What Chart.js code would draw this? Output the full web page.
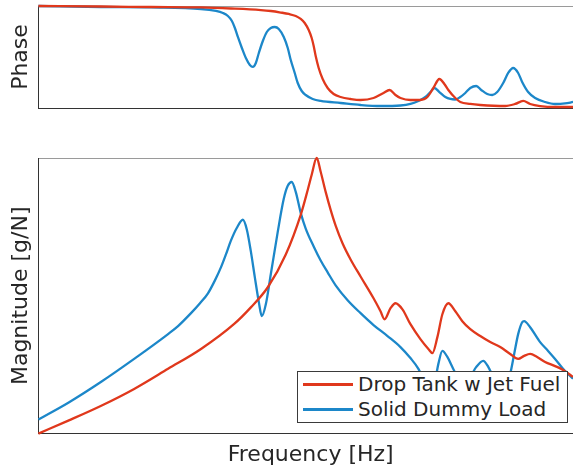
<!DOCTYPE html>
<html>
<head>
<meta charset="utf-8">
<script src="https://cdn.jsdelivr.net/npm/chart.js@4.4.0/dist/chart.umd.min.js"></script>
<style>
  html, body { margin: 0; padding: 0; background: #fff; }
  #wrap { position: relative; width: 573px; height: 473px; overflow: hidden; }
  #phaseBox { position: absolute; left: 0; top: 0; }
  #magBox { position: absolute; left: 0; top: 150px; }
  #legend {
    position: absolute; left: 297px; top: 371px; width: 269px; height: 50px;
    border: 1px solid #3a3a3a; background: #fff;
    font-family: "DejaVu Sans", sans-serif; font-size: 20px; color: #262626;
  }
  .row { position: absolute; left: 0; height: 25px; width: 100%; }
  .swatch { position: absolute; left: 5px; top: 11px; width: 50px; height: 2.5px; }
  .lbl { position: absolute; left: 60px; top: 0; line-height: 25px; white-space: nowrap; }
</style>
</head>
<body>
<div id="wrap">
  <div id="phaseBox"><canvas id="phaseChart" width="585" height="112"></canvas></div>
  <div id="magBox"><canvas id="magChart" width="585" height="323"></canvas></div>
  <div id="legend"></div>
</div>
<script>
// Series names and colours
const seriesNames = ['Drop Tank w Jet Fuel', 'Solid Dummy Load'];
const seriesColors = ['#e0381c', '#1c87c9'];

// Phase [deg]
const tankPhaseFreq = [0, 63, 113, 163, 193, 223, 233, 243, 251, 258, 263, 267, 271, 274, 276, 278, 281, 285, 290, 296,
    303, 313, 323, 336, 346, 352, 358, 363, 373, 383, 390, 396, 402, 407, 411, 418, 423, 433, 443, 468,
    478, 486, 493, 503, 518, 536];
const tankPhase = [0, -0.9, -1.8, -2.6, -4.4, -7.1, -8.8, -11.5, -14.1, -17.6, -22.9, -30.0, -42.4, -56.5, -70.6, -88.2, -109.4, -128.8, -144.7, -155.3,
    -160.6, -164.1, -165.9, -162.4, -153.5, -148.2, -157.1, -162.4, -165.9, -165.9, -160.6, -144.7, -128.8, -137.6, -148.2, -162.4, -169.4, -172.9, -174.7, -176.5,
    -172.9, -167.6, -172.9, -176.5, -178.2, -178.2];

const dummyPhaseFreq = [0, 63, 113, 163, 178, 185, 190, 194, 197, 200, 204, 208, 212, 215, 218, 221, 225, 229, 233, 237,
    241, 246, 250, 253, 257, 260, 264, 268, 275, 283, 303, 323, 343, 363, 373, 381, 388, 393, 397, 402,
    408, 413, 418, 423, 428, 433, 439, 444, 450, 455, 460, 466, 471, 476, 481, 485, 491, 498, 508, 518,
    528, 536];
const dummyPhase = [0, -1.8, -2.6, -5.3, -8.8, -12.4, -17.6, -26.5, -38.8, -54.7, -74.1, -91.8, -104.1, -107.6, -100.6, -82.9, -61.8, -45.9, -38.8, -37.1,
    -40.6, -54.7, -74.1, -95.3, -118.2, -135.9, -150, -157.1, -164.1, -167.6, -171.2, -174.7, -176.5, -175.6, -172.9, -167.6, -160.6, -151.8, -144.7, -151.8,
    -160.6, -164.1, -165, -160.6, -153.5, -144.7, -141.2, -148.2, -155.3, -157.1, -151.8, -135.9, -118.2, -109.4, -118.2, -134.1, -151.8, -162.4, -169.4, -172.9,
    -172, -169.4];

// Magnitude (relative, 0-100)
const tankMagFreq = [0, 30, 63, 96, 130, 163, 196, 213, 230, 248, 263, 270, 274, 279, 283, 288, 293, 298, 305, 313,
    323, 336, 343, 347, 353, 358, 365, 373, 383, 391, 395, 400, 405, 411, 418, 425, 433, 443, 453, 463,
    473, 481, 487, 493, 500, 508, 518, 526, 536];
const tankMag = [0, 4.7, 10.1, 16.2, 23.5, 30.7, 39.7, 45.8, 53.1, 65.0, 79.4, 88.4, 93.9, 100, 95.0, 87.7, 81.2, 75.5, 69.0, 63.2,
    57.0, 49.1, 44.4, 41.5, 45.5, 47.3, 45.1, 39.7, 34.3, 30.7, 29.2, 35.0, 43.3, 47.3, 44.4, 40.8, 37.9, 35.4, 33.2, 31.4,
    28.9, 27.1, 28.2, 28.9, 27.8, 26.0, 24.5, 23.1, 20.6];

const dummyMagFreq = [0, 30, 63, 96, 130, 140, 153, 162, 170, 177, 183, 188, 193, 199, 205, 209, 213, 217, 221, 224,
    228, 233, 240, 246, 250, 254, 258, 263, 268, 276, 283, 290, 298, 310, 323, 336, 350, 363, 373, 381,
    388, 393, 398, 401, 405, 410, 415, 420, 426, 433, 439, 446, 451, 456, 463, 469, 473, 477, 481, 485,
    487, 493, 503, 511, 518, 528, 536];
const dummyMag = [5.1, 11.2, 18.8, 27.1, 36.1, 39.0, 43.7, 47.3, 50.9, 55.6, 60.3, 65.0, 70.0, 74.7, 77.6, 74.0, 66.1, 56.7, 47.7, 42.6,
    46.9, 57.8, 73.3, 85.2, 89.9, 91.3, 87.7, 80.1, 74.4, 67.9, 62.8, 58.5, 53.8, 48.4, 43.7, 39.4, 35.4, 31.4, 27.4, 23.5,
    18.1, 15.5, 19.9, 25.3, 30.0, 27.8, 24.2, 20.6, 18.1, 20.6, 24.2, 26.4, 24.2, 20.6, 17.0, 18.1, 21.7, 28.9, 36.1, 40.4,
    40.8, 38.6, 33.2, 30.0, 27.1, 22.7, 19.9];

const freqMax = 546;
const titleFont = { family: 'DejaVu Sans', size: 22 };

function pts(xs, ys) {
    return xs.map((x, i) => ({ x: x, y: ys[i] }));
}

function line(label, color, data) {
    return {
        label: label,
        data: data,
        borderColor: color,
        borderWidth: 2.3,
        pointRadius: 0,
        fill: false,
        cubicInterpolationMode: 'monotone',
        clip: 3
    };
}

function hiddenAxis(pos, color) {
    return {
        type: 'linear',
        position: pos,
        min: 0,
        max: freqMax,
        ticks: { display: false },
        grid: { display: false, drawTicks: false },
        border: { display: true, color: color, width: 1 }
    };
}

// Phase panel
new Chart(document.getElementById('phaseChart').getContext('2d'), {
    type: 'line',
    data: {
        datasets: [
            line(seriesNames[0], seriesColors[0], pts(tankPhaseFreq, tankPhase)),
            line(seriesNames[1], seriesColors[1], pts(dummyPhaseFreq, dummyPhase))
        ]
    },
    options: {
        responsive: false,
        animation: false,
        layout: { padding: { left: 4, top: 6, right: 2, bottom: 4 } },
        plugins: { legend: { display: false }, tooltip: { enabled: false } },
        scales: {
            x: hiddenAxis('bottom', '#333333'),
            xTop: Object.assign(hiddenAxis('top', '#9a9a9a'), { axis: 'x' }),
            y: {
                min: -180,
                max: 0,
                ticks: { display: false },
                grid: { display: false, drawTicks: false },
                border: { display: true, color: '#333333', width: 1 },
                title: { display: true, text: 'Phase', font: titleFont, color: '#262626', padding: { top: 4, bottom: 4 } }
            }
        }
    }
});

// Magnitude panel
new Chart(document.getElementById('magChart').getContext('2d'), {
    type: 'line',
    data: {
        datasets: [
            line(seriesNames[0], seriesColors[0], pts(tankMagFreq, tankMag)),
            line(seriesNames[1], seriesColors[1], pts(dummyMagFreq, dummyMag))
        ]
    },
    options: {
        responsive: false,
        animation: false,
        layout: { padding: { left: 4, top: 8, right: 2, bottom: 1 } },
        plugins: { legend: { display: false }, tooltip: { enabled: false } },
        scales: {
            x: Object.assign(hiddenAxis('bottom', '#333333'), {
                title: { display: true, text: 'Frequency [Hz]', font: titleFont, color: '#262626', padding: { top: 8, bottom: 4 } }
            }),
            xTop: Object.assign(hiddenAxis('top', '#9a9a9a'), { axis: 'x' }),
            y: {
                min: 0,
                max: 100,
                ticks: { display: false },
                grid: { display: false, drawTicks: false },
                border: { display: true, color: '#333333', width: 1 },
                title: { display: true, text: 'Magnitude [g/N]', font: titleFont, color: '#262626', padding: { top: 4, bottom: 4 } }
            }
        }
    }
});

// Legend box drawn over the lower panel
const legend = document.getElementById('legend');
seriesNames.forEach((name, i) => {
    const row = document.createElement('div');
    row.className = 'row';
    row.style.top = (i * 25) + 'px';
    row.innerHTML = '<div class="swatch" style="background:' + seriesColors[i] + '"></div><div class="lbl">' + name + '</div>';
    legend.appendChild(row);
});
</script>
</body>
</html>
